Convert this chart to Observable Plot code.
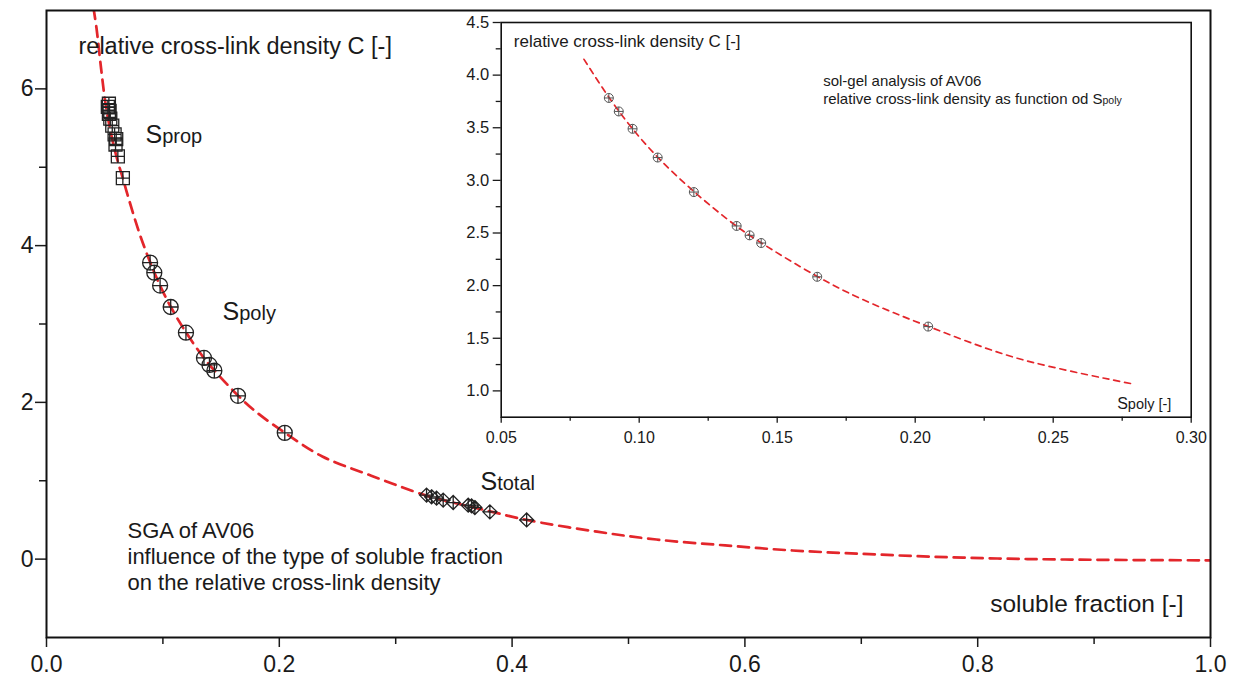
<!DOCTYPE html>
<html><head><meta charset="utf-8">
<script src="https://cdn.jsdelivr.net/npm/d3@7"></script>
<script src="https://cdn.jsdelivr.net/npm/@observablehq/plot@0.6"></script>
<style>
body{margin:0;background:#fff;}
#wrap{position:relative;width:1235px;height:684px;overflow:hidden;}
#wrap svg{overflow:visible;}
#inset{position:absolute;left:430px;top:0;}
</style></head><body><div id="wrap"></div>
<script>
// ---- data ----
const propS = [0.0536, 0.0527, 0.0542, 0.0536, 0.0548, 0.0565, 0.0585, 0.0599, 0.0593, 0.0613, 0.0656];
const propC = [5.81, 5.77, 5.72, 5.68, 5.62, 5.53, 5.42, 5.36, 5.29, 5.14, 4.86];
const polyS = [0.0890, 0.0926, 0.0976, 0.1067, 0.1198, 0.1353, 0.1400, 0.1442, 0.1645, 0.2047];
const polyC = [3.783, 3.655, 3.490, 3.217, 2.889, 2.567, 2.478, 2.405, 2.084, 1.611];
const totalS = [0.3265, 0.3308, 0.3351, 0.3408, 0.3494, 0.3623, 0.3652, 0.3680, 0.3809, 0.4125];
const totalC = [0.817, 0.795, 0.778, 0.753, 0.722, 0.688, 0.679, 0.658, 0.603, 0.500];
const curveS = [0.0404, 0.0430, 0.0469, 0.0507, 0.0546, 0.0585, 0.0619, 0.0658, 0.0696, 0.080, 0.089, 0.0976, 0.1067, 0.120, 0.135, 0.144, 0.165, 0.180, 0.205, 0.237, 0.279, 0.3265, 0.350, 0.381, 0.4125, 0.473, 0.524, 0.583, 0.641, 0.700, 0.758, 0.817, 0.875, 0.935, 1.000];
const curveC = [7.03, 6.77, 6.26, 5.81, 5.49, 5.23, 5.04, 4.85, 4.65, 4.15, 3.79, 3.49, 3.22, 2.89, 2.57, 2.41, 2.08, 1.88, 1.61, 1.31, 1.065, 0.81, 0.72, 0.61, 0.50, 0.35, 0.25, 0.175, 0.11, 0.068, 0.032, 0.008, -0.005, -0.012, -0.015];
const insetRange = [0.0799, 0.2790];

const mainXTicks = [0, 0.2, 0.4, 0.6, 0.8, 1.0];
const mainXMinor = [0.1, 0.3, 0.5, 0.7, 0.9];
const mainYTicks = [0, 2, 4, 6];
const mainYMinor = [1, 3, 5];
const insetXTicks = [0.05, 0.10, 0.15, 0.20, 0.25, 0.30];
const insetXMinor = [0.075, 0.125, 0.175, 0.225, 0.275];
const insetYTicks = [1.0, 1.5, 2.0, 2.5, 3.0, 3.5, 4.0, 4.5];
const insetYMinor = [1.25, 1.75, 2.25, 2.75, 3.25, 3.75, 4.25];

const mainTitle = "relative cross-link density C [-]";
const mainXTitle = "soluble fraction [-]";
const mainNote = "SGA of AV06\ninfluence of the type of soluble fraction\non the relative cross-link density";
const labelProp = "S_prop", labelPoly = "S_poly", labelTotal = "S_total";
const insetNote1 = "sol-gel analysis of AV06";
const insetNote2 = "relative cross-link density as function od S_poly";
const insetXTitle = "S_poly [-]";

// ---- helpers ----
const zip = (xs, ys) => xs.map((x, i) => ({s: x, c: ys[i]}));
const prop = zip(propS, propC), poly = zip(polyS, polyC), total = zip(totalS, totalC);
const curve = zip(curveS, curveC);
const curveInset = curve.filter(d => d.s >= insetRange[0] && d.s <= insetRange[1]);

const rad = size => Math.sqrt(size / Math.PI);
function cross(ctx, r) { ctx.moveTo(-r, 0); ctx.lineTo(r, 0); ctx.moveTo(0, -r); ctx.lineTo(0, r); }
const squarePlus = {draw(ctx, size) { const r = rad(size); ctx.moveTo(-r, -r); ctx.lineTo(r, -r); ctx.lineTo(r, r); ctx.lineTo(-r, r); ctx.closePath(); cross(ctx, r); }};
const circlePlus = {draw(ctx, size) { const r = rad(size); ctx.moveTo(r, 0); ctx.arc(0, 0, r, 0, 2 * Math.PI); cross(ctx, r); }};
const diamondPlus = {draw(ctx, size) { const r = rad(size); ctx.moveTo(0, -r); ctx.lineTo(r, 0); ctx.lineTo(0, r); ctx.lineTo(-r, 0); ctx.closePath(); cross(ctx, r); }};

function applySubs(svg, subs) {
  svg.querySelectorAll("text").forEach(t => {
    const s = t.textContent;
    if (!(s in subs) || t.children.length) return;
    const i = s.indexOf("_");
    t.textContent = "";
    const ns = "http://www.w3.org/2000/svg";
    const a = document.createElementNS(ns, "tspan"); a.textContent = s.slice(0, i);
    const b = document.createElementNS(ns, "tspan"); b.textContent = s.slice(i + 1);
    b.setAttribute("font-size", subs[s]);
    t.append(a, b);
  });
}

const FONT = "'Liberation Sans', Arial, Helvetica, sans-serif";
const INK = "#1a1a1a";
const RED = "#e3262b";
const blank = () => "";

// ---- main chart ----
const main = Plot.plot({
  width: 1235, height: 684,
  marginLeft: 46, marginRight: 25, marginTop: 10, marginBottom: 47,
  style: {fontFamily: FONT, background: "transparent", color: INK},
  x: {domain: [0, 1]},
  y: {domain: [-1, 7]},
  marks: [
    Plot.axisX({ticks: mainXTicks, tickSize: 10, tickPadding: 8, tickFormat: d3.format(".1f"), fontSize: 23, strokeWidth: 1.5, label: null}),
    Plot.axisX({ticks: mainXMinor, tickSize: 7, tickFormat: blank, strokeWidth: 1.5, label: null}),
    Plot.axisY({ticks: mainYTicks, tickSize: 11, tickPadding: 2, tickFormat: d3.format("d"), fontSize: 23, strokeWidth: 1.5, label: null}),
    Plot.axisY({ticks: mainYMinor, tickSize: 7, tickFormat: blank, strokeWidth: 1.5, label: null}),
    Plot.line(curve, {x: "s", y: "c", stroke: RED, strokeWidth: 2.7, strokeDasharray: "11,7", curve: "catmull-rom", clip: true}),
    Plot.dot(prop, {x: "s", y: "c", r: 6.5, symbol: squarePlus, stroke: "#222", strokeWidth: 1.3, fill: "none"}),
    Plot.dot(poly, {x: "s", y: "c", r: 7.5, symbol: circlePlus, stroke: "#222", strokeWidth: 1.3, fill: "none"}),
    Plot.dot(total, {x: "s", y: "c", r: 7, symbol: diamondPlus, stroke: "#222", strokeWidth: 1.3, fill: "none"}),
    Plot.frame({stroke: "#111", strokeWidth: 2}),
    Plot.text([mainTitle], {frameAnchor: "top-left", dx: 32, dy: 36, text: d => d, textAnchor: "start", lineAnchor: "middle", fontSize: 23.5, fill: INK}),
    Plot.text([labelProp], {frameAnchor: "top-left", dx: 99, dy: 124, text: d => d, textAnchor: "start", lineAnchor: "middle", fontSize: 25, fill: INK}),
    Plot.text([labelPoly], {frameAnchor: "top-left", dx: 176, dy: 301, text: d => d, textAnchor: "start", lineAnchor: "middle", fontSize: 25, fill: INK}),
    Plot.text([labelTotal], {frameAnchor: "top-left", dx: 434, dy: 471, text: d => d, textAnchor: "start", lineAnchor: "middle", fontSize: 25, fill: INK}),
    Plot.text([mainNote], {frameAnchor: "top-left", dx: 81, dy: 509, text: d => d, textAnchor: "start", lineAnchor: "top", lineHeight: 1.18, fontSize: 22, fill: INK}),
    Plot.text([mainXTitle], {frameAnchor: "top-right", dx: -27, dy: 594, text: d => d, textAnchor: "end", lineAnchor: "middle", fontSize: 24.5, fill: INK})
  ]
});
applySubs(main, {[labelProp]: 20, [labelPoly]: 20, [labelTotal]: 20});

// ---- inset ----
const inset = Plot.plot({
  width: 790, height: 450,
  marginLeft: 70.7, marginRight: 29.3, marginTop: 22, marginBottom: 33.3,
  style: {fontFamily: FONT, background: "transparent", color: INK},
  x: {domain: [0.05, 0.30]},
  y: {domain: [0.75, 4.5]},
  marks: [
    Plot.axisX({ticks: insetXTicks, tickSize: 6, tickPadding: 8, tickFormat: d3.format(".2f"), fontSize: 16, strokeWidth: 1.3, label: null}),
    Plot.axisX({ticks: insetXMinor, tickSize: 4, tickFormat: blank, strokeWidth: 1.3, label: null}),
    Plot.axisY({ticks: insetYTicks, tickSize: 8, tickPadding: 4, tickFormat: d3.format(".1f"), fontSize: 16.5, strokeWidth: 1.3, label: null}),
    Plot.axisY({ticks: insetYMinor, tickSize: 5, tickFormat: blank, strokeWidth: 1.3, label: null}),
    Plot.line(curveInset, {x: "s", y: "c", stroke: RED, strokeWidth: 1.7, strokeDasharray: "6,5", curve: "catmull-rom"}),
    Plot.dot(poly, {x: "s", y: "c", r: 4.5, symbol: circlePlus, stroke: "#555", strokeWidth: 1, fill: "none"}),
    Plot.frame({stroke: "#111", strokeWidth: 1.6}),
    Plot.text([mainTitle], {frameAnchor: "top-left", dx: 12.6, dy: 19.3, text: d => d, textAnchor: "start", lineAnchor: "middle", fontSize: 17, fill: INK}),
    Plot.text([insetNote1], {frameAnchor: "top-left", dx: 322, dy: 52.4, text: d => d, textAnchor: "start", lineAnchor: "top", fontSize: 15, fill: INK}),
    Plot.text([insetNote2], {frameAnchor: "top-left", dx: 322, dy: 70.7, text: d => d, textAnchor: "start", lineAnchor: "top", fontSize: 15, fill: INK}),
    Plot.text([insetXTitle], {frameAnchor: "top-left", dx: 616, dy: 381.2, text: d => d, textAnchor: "start", lineAnchor: "middle", fontSize: 16, fill: INK})
  ]
});
applySubs(inset, {[insetNote2]: 10.5, [insetXTitle]: 14.5});
inset.id = "inset";

const wrap = document.getElementById("wrap");
wrap.append(main, inset);
</script></body></html>
